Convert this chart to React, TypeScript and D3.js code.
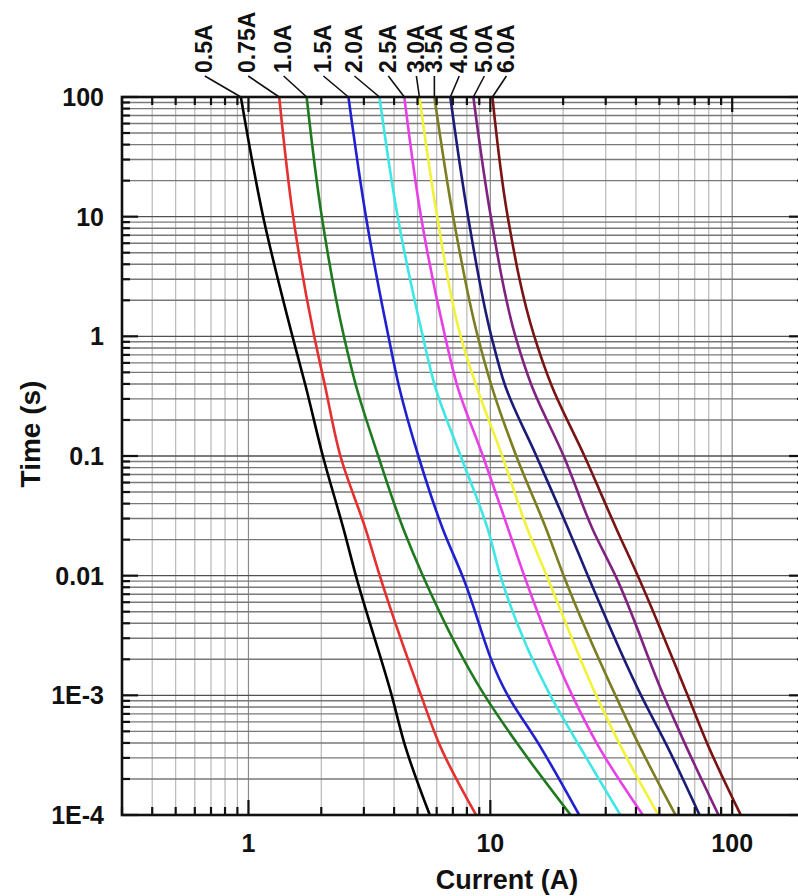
import React, { useEffect, useRef } from "react";
import * as d3 from "d3";

// time rows (s) at which the curves were read
const TIMES = [100, 10, 1, 0.39, 0.1, 0.024, 0.01, 0.001, 0.00038, 0.0001];

// current (A) of each fuse curve at the rows above
const I_050 = [0.93, 1.15, 1.52, 1.72, 2.03, 2.48, 2.78, 3.91, 4.44, 5.62];
const I_075 = [1.34, 1.53, 1.87, 2.07, 2.4, 3.06, 3.49, 5.17, 6.19, 8.73];
const I_100 = [1.74, 2.01, 2.48, 2.78, 3.44, 4.39, 5.26, 9.47, 13.1, 21.5];
const I_150 = [2.59, 3.06, 3.79, 4.18, 5.04, 6.39, 7.66, 11.8, 16.0, 23.3];
const I_200 = [3.48, 4.14, 5.26, 5.89, 7.54, 9.79, 11.0, 17.7, 23.3, 34.5];
const I_250 = [4.41, 5.17, 6.5, 7.29, 9.32, 11.9, 13.8, 21.8, 27.9, 42.7];
const I_300 = [5.09, 6.03, 7.54, 8.73, 11.2, 14.3, 17.1, 27.4, 34.5, 49.5];
const I_350 = [5.87, 7.02, 8.87, 10.1, 12.8, 17.1, 20.1, 32.9, 41.3, 58.3];
const I_400 = [6.83, 8.09, 10.1, 11.5, 15.5, 21.1, 25.3, 42.0, 53.7, 73.3];
const I_500 = [8.51, 10.05, 12.7, 14.8, 20.1, 26.6, 32.9, 52.0, 64.3, 87.8];
const I_600 = [10.2, 11.8, 15.2, 17.9, 24.5, 33.4, 40.7, 65.4, 79.5, 108.5];

const RATINGS = ["0.5A", "0.75A", "1.0A", "1.5A", "2.0A", "2.5A", "3.0A", "3.5A", "4.0A", "5.0A", "6.0A"];
const SERIES = [I_050, I_075, I_100, I_150, I_200, I_250, I_300, I_350, I_400, I_500, I_600];
const COLORS = [
  "#000000", "#e53030", "#1f7a1f", "#2020d0", "#3ee6e6", "#e640e6",
  "#f2f23a", "#7d7d22", "#1c1c78", "#7f237f", "#7a1414",
];
// horizontal nudge (px) of each rating label from the curve top
const LABEL_NUDGE = [-37, -32, -24, -26, -26, -17, -4, -1, 8, 10, 13];

const X_TICKS = [1, 10, 100];
const Y_TICKS = [100, 10, 1, 0.1, 0.01, 0.001, 0.0001];
const Y_TICK_LABELS = ["100", "10", "1", "0.1", "0.01", "1E-3", "1E-4"];

const W = 798;
const H = 896;
const margin = { top: 97, left: 122, right: -7, bottom: 81 };
const FONT = "Arial, 'Liberation Sans', sans-serif";

const minorTicks = (lo: number, hi: number) => {
  const out: number[] = [];
  for (let e = Math.floor(Math.log10(lo)); e <= Math.ceil(Math.log10(hi)); e++) {
    for (let m = 1; m < 10; m++) {
      const v = m * Math.pow(10, e);
      if (v >= lo * 0.999 && v <= hi * 1.001) out.push(v);
    }
  }
  return out;
};

const App = () => {
  const svgRef = useRef<SVGSVGElement>(null);

  useEffect(() => {
    const svg = d3.select(svgRef.current);
    svg.selectAll("*").remove();

    const x0 = margin.left;
    const x1 = W - margin.right;
    const y0 = margin.top;
    const y1 = H - margin.bottom;

    const x = d3.scaleLog().domain([0.3, 200]).range([x0, x1]);
    const y = d3.scaleLog().domain([0.0001, 100]).range([y1, y0]);

    const xMinor = minorTicks(0.3, 200);
    const yMinor = minorTicks(0.0001, 100);
    const isMajor = (v: number) => Math.abs(Math.log10(v) - Math.round(Math.log10(v))) < 1e-6;

    const g = svg.append("g");

    // grid
    g.selectAll("line.vgrid")
      .data(xMinor)
      .join("line")
      .attr("x1", (d) => x(d))
      .attr("x2", (d) => x(d))
      .attr("y1", y0)
      .attr("y2", y1)
      .attr("stroke", (d) => (isMajor(d) ? "#8a8a8a" : "#b8b8b8"))
      .attr("stroke-width", 1.2);

    g.selectAll("line.hgrid")
      .data(yMinor)
      .join("line")
      .attr("x1", x0)
      .attr("x2", x1)
      .attr("y1", (d) => y(d))
      .attr("y2", (d) => y(d))
      .attr("stroke", (d) => (isMajor(d) ? "#505050" : "#787878"))
      .attr("stroke-width", 1.4);

    // curves
    const line = d3
      .line<[number, number]>()
      .x((d) => x(d[0]))
      .y((d) => y(d[1]))
      .curve(d3.curveMonotoneY);

    svg
      .append("clipPath")
      .attr("id", "plotclip")
      .append("rect")
      .attr("x", x0)
      .attr("y", y0)
      .attr("width", x1 - x0)
      .attr("height", y1 - y0);

    SERIES.forEach((s, i) => {
      const pts = s.map((c, k) => [c, TIMES[k]] as [number, number]);
      g.append("path")
        .attr("d", line(pts))
        .attr("fill", "none")
        .attr("stroke", COLORS[i])
        .attr("stroke-width", 2.6)
        .attr("clip-path", "url(#plotclip)");
    });

    // axes frame
    const axisStroke = "#111";
    g.append("rect")
      .attr("x", x0)
      .attr("y", y0)
      .attr("width", x1 - x0)
      .attr("height", y1 - y0)
      .attr("fill", "none")
      .attr("stroke", axisStroke)
      .attr("stroke-width", 2.6);

    // x ticks, top and bottom, pointing in
    xMinor.forEach((v) => {
      const len = isMajor(v) ? 15 : 8;
      g.append("line")
        .attr("x1", x(v)).attr("x2", x(v))
        .attr("y1", y1).attr("y2", y1 - len)
        .attr("stroke", axisStroke).attr("stroke-width", 2.2);
      g.append("line")
        .attr("x1", x(v)).attr("x2", x(v))
        .attr("y1", y0).attr("y2", y0 + len)
        .attr("stroke", axisStroke).attr("stroke-width", 2.2);
    });

    // y ticks, left and right, pointing in
    yMinor.forEach((v) => {
      const len = isMajor(v) ? 16 : 8;
      g.append("line")
        .attr("x1", x0).attr("x2", x0 + len)
        .attr("y1", y(v)).attr("y2", y(v))
        .attr("stroke", axisStroke).attr("stroke-width", 2.2);
      g.append("line")
        .attr("x1", x1).attr("x2", x1 - len)
        .attr("y1", y(v)).attr("y2", y(v))
        .attr("stroke", axisStroke).attr("stroke-width", 2.2);
    });

    // tick labels
    g.selectAll("text.xt")
      .data(X_TICKS)
      .join("text")
      .attr("x", (d) => x(d))
      .attr("y", y1 + 37)
      .attr("text-anchor", "middle")
      .attr("font-family", FONT)
      .attr("font-weight", "bold")
      .attr("font-size", 25)
      .attr("fill", "#111")
      .text((d) => String(d));

    g.selectAll("text.yt")
      .data(Y_TICKS)
      .join("text")
      .attr("x", x0 - 18)
      .attr("y", (d) => y(d))
      .attr("dy", "0.36em")
      .attr("text-anchor", "end")
      .attr("font-family", FONT)
      .attr("font-weight", "bold")
      .attr("font-size", 25)
      .attr("fill", "#111")
      .text((d, i) => Y_TICK_LABELS[i]);

    // axis titles
    g.append("text")
      .attr("x", 507)
      .attr("y", H - 7)
      .attr("text-anchor", "middle")
      .attr("font-family", FONT)
      .attr("font-weight", "bold")
      .attr("font-size", 27)
      .attr("fill", "#111")
      .text("Current (A)");

    g.append("text")
      .attr("transform", `translate(30,434) rotate(-90)`)
      .attr("dy", "0.36em")
      .attr("text-anchor", "middle")
      .attr("font-family", FONT)
      .attr("font-weight", "bold")
      .attr("font-size", 28)
      .attr("fill", "#111")
      .text("Time (s)");

    // rating labels with leader lines
    SERIES.forEach((s, i) => {
      const topX = x(s[0]);
      const lx = topX + LABEL_NUDGE[i];
      g.append("line")
        .attr("x1", lx + 1)
        .attr("y1", 76)
        .attr("x2", topX)
        .attr("y2", y0)
        .attr("stroke", "#111")
        .attr("stroke-width", 1.6);
      g.append("text")
        .attr("transform", `translate(${lx},73) rotate(-90)`)
        .attr("dy", "0.36em")
        .attr("text-anchor", "start")
        .attr("font-family", FONT)
        .attr("font-weight", "bold")
        .attr("font-size", 23)
        .attr("fill", "#111")
        .text(RATINGS[i]);
    });
  }, []);

  return (
    <svg
      ref={svgRef}
      width={W}
      height={H}
      style={{ position: "absolute", left: 0, top: 0, background: "#fff" }}
    ></svg>
  );
};

export default App;
